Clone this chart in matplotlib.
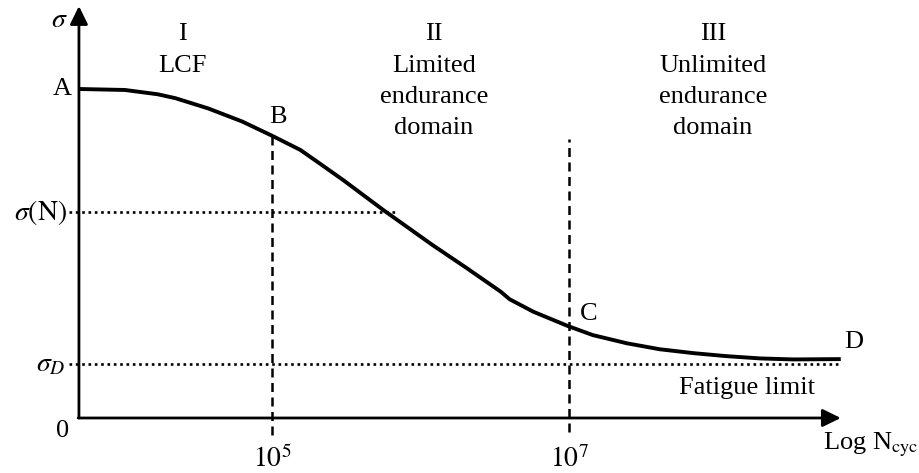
import matplotlib.pyplot as plt
import numpy as np

plt.rcParams['font.family'] = ['Liberation Serif', 'DejaVu Serif']
plt.rcParams['mathtext.fontset'] = 'stix'

# Schematic S-N (Woehler) curve: x = log10(N), y = stress amplitude (arbitrary units)
log_n = [3.70, 4.01, 4.23, 4.35, 4.57, 4.80, 5.00, 5.19, 5.32, 5.48, 5.75,
         6.08, 6.31, 6.54, 6.60, 6.76, 6.99, 7.16, 7.39, 7.61, 7.84, 8.06,
         8.29, 8.51, 8.83]
sigma = [100.0, 99.7, 98.4, 97.2, 94.1, 90.1, 85.8, 81.5, 77.4, 72.3, 63.2,
         52.6, 45.6, 38.4, 36.1, 32.3, 28.0, 25.2, 22.7, 20.9, 19.7, 18.8,
         18.1, 17.8, 17.9]

x_origin = 3.70
x_end = 8.83
y_top = 124.6
sigma_a = 100.0
sigma_n = 62.6
sigma_d = 16.4
log_b = 5.0
log_c = 7.0
sigma_b = 85.8
sigma_c = 28.0

zones = ['I\nLCF', 'II\nLimited\nendurance\ndomain', 'III\nUnlimited\nendurance\ndomain']
zone_x = [4.40, 6.09, 7.97]

fig = plt.figure(figsize=(9.2, 4.73), dpi=100)
ax = fig.add_axes([0, 0, 1, 1])
ax.set_xlim(3.1684, 9.3636)
ax.set_ylim(-16.72, 127.05)
ax.axis('off')

# axes with arrow heads
arrow = dict(arrowstyle='-|>,head_length=0.55,head_width=0.27', lw=2.0,
             color='k', shrinkA=0, shrinkB=0, mutation_scale=20)
ax.annotate('', xy=(x_origin, y_top + 0.6), xytext=(x_origin, 0), arrowprops=arrow)
ax.annotate('', xy=(x_end, 0), xytext=(x_origin - 0.005, 0), arrowprops=arrow)

# curve
ax.plot(log_n, sigma, color='k', lw=2.8, solid_capstyle='butt',
        solid_joinstyle='round')

# boundaries between domains
dash = (0, (3.6, 2.2))
ax.plot([log_b, log_b], [-5.2, sigma_b], color='k', lw=1.8, linestyle=dash)
ax.plot([log_c, log_c], [-4.3, 84.8], color='k', lw=1.8, linestyle=dash)

# reference stress levels
dot = (0, (1, 1.4))
ax.plot([3.63, 5.83], [sigma_n, sigma_n], color='k', lw=1.9, linestyle=dot)
ax.plot([3.63, x_end], [sigma_d, sigma_d], color='k', lw=1.9, linestyle=dot)

fs = 19
for label, xz in zip(zones, zone_x):
    ax.text(xz, 120.0, label, ha='center', va='top', fontsize=fs, linespacing=1.55)

ax.text(3.57, 120.7, r'$\sigma$', ha='center', va='center', fontsize=fs + 1)
ax.text(3.59, sigma_a, 'A', ha='center', va='center', fontsize=fs)
ax.text(5.04, 91.5, 'B', ha='center', va='center', fontsize=fs)
ax.text(7.13, 31.6, 'C', ha='center', va='center', fontsize=fs)
ax.text(8.92, 23.1, 'D', ha='center', va='center', fontsize=fs)
ax.text(3.62, sigma_n, r'$\sigma(\mathrm{N})$', ha='right', va='center', fontsize=fs + 1)
ax.text(3.61, sigma_d - 0.3, r'$\sigma_D$', ha='right', va='center', fontsize=fs + 1)
ax.text(3.59, -3.9, '0', ha='center', va='center', fontsize=fs)
ax.text(log_b, -12.6, r'$10^5$', ha='center', va='center', fontsize=fs + 1)
ax.text(log_c, -12.6, r'$10^7$', ha='center', va='center', fontsize=fs + 1)
ax.text(8.20, 9.1, 'Fatigue limit', ha='center', va='center', fontsize=fs)
ax.text(8.71, -8.3, r'Log N$_{\mathrm{cyc}}$', ha='left', va='center', fontsize=fs)

fig.savefig('out.png', dpi=100)
